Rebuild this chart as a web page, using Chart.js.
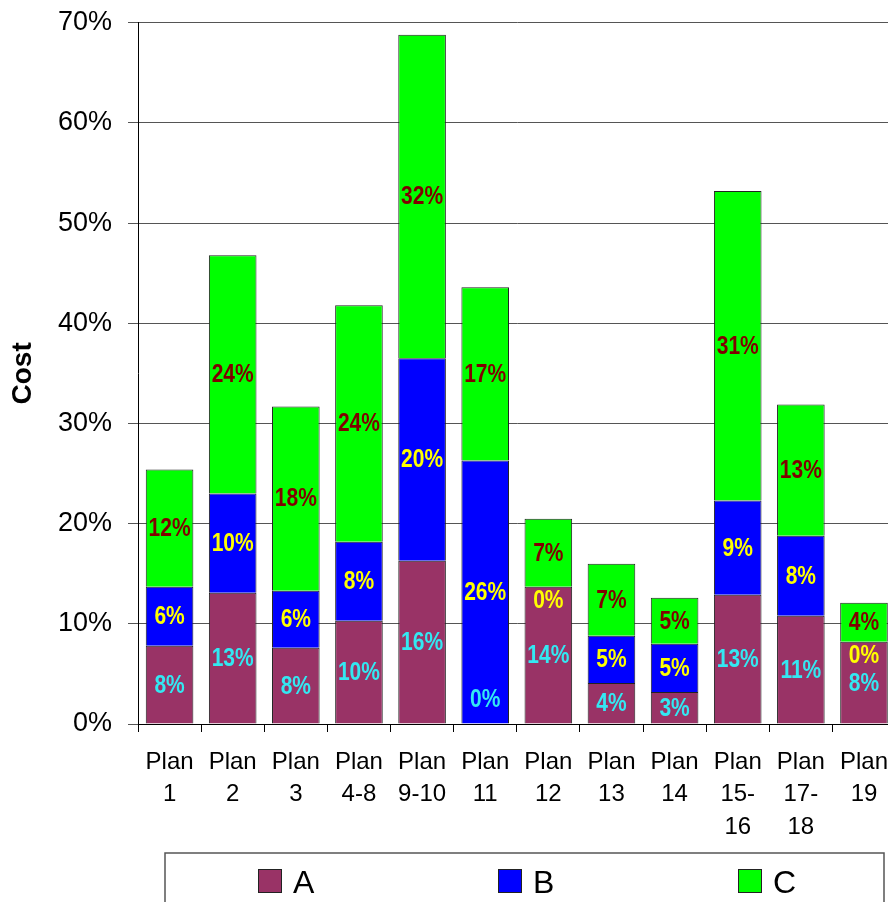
<!DOCTYPE html>
<html>
<head>
<meta charset="utf-8">
<title>Cost by plan</title>
<script src="https://cdn.jsdelivr.net/npm/chart.js@4.4.1/dist/chart.umd.min.js"></script>
<style>
  html, body { margin: 0; padding: 0; background: #ffffff; overflow: hidden; width: 888px; height: 902px; }
  canvas { display: block; }
</style>
</head>
<body>
<canvas id="chart" width="902" height="940"></canvas>
<script>
// Plan groups along the x axis (multi-line tick labels)
const planLabels = [
  ["Plan", "1"], ["Plan", "2"], ["Plan", "3"], ["Plan", "4-8"],
  ["Plan", "9-10"], ["Plan", "11"], ["Plan", "12"], ["Plan", "13"],
  ["Plan", "14"], ["Plan", "15-", "16"], ["Plan", "17-", "18"], ["Plan", "19"]
];

// Cost components, in percent
const costA = [7.8, 13.1, 7.6, 10.3, 16.3, 0, 13.7, 4.1, 3.2, 12.9, 10.8, 8.2];
const costB = [5.9, 9.9, 5.7, 7.9, 20.2, 26.3, 0, 4.7, 4.8, 9.4, 8.0, 0];
const costC = [11.7, 23.8, 18.4, 23.6, 32.3, 17.3, 6.8, 7.2, 4.6, 30.9, 13.1, 3.9];

const seriesNames = ["A", "B", "C"];

// Y axis ticks: 0% .. 70%
const yMin = 0, yMax = 70, yStep = 10;

const fill = ["#993366", "#0000FF", "#00FF00"];
const labelInk = ["#33E8F2", "#FFFF00", "#800000"];

// Values written in the middle of each stacked segment (tall, condensed bold)
const segmentLabels = {
  id: "segmentLabels",
  afterDatasetsDraw(chart) {
    const ctx = chart.ctx;
    const base = chart.scales.y.getPixelForValue(0);
    const squeeze = 0.84;
    ctx.save();
    ctx.font = "bold 25px 'Liberation Sans', Arial, sans-serif";
    ctx.textAlign = "center";
    ctx.textBaseline = "middle";
    chart.data.datasets.forEach((ds, di) => {
      const meta = chart.getDatasetMeta(di);
      meta.data.forEach((bar, i) => {
        const v = ds.data[i];
        let y = (bar.y + bar.base) / 2;
        if (v === 0) {
          y = bar.y + 13;
          if (y > base - 25) y = base - 25;
        }
        ctx.save();
        ctx.translate(bar.x, y + 1);
        ctx.scale(squeeze, 1);
        ctx.fillStyle = labelInk[di];
        ctx.fillText(Math.round(v) + "%", 0, 0);
        ctx.restore();
      });
    });
    ctx.restore();
  }
};

// Boxed legend under the axis
const boxedLegend = {
  id: "boxedLegend",
  afterDraw(chart) {
    const ctx = chart.ctx;
    const left = 165, right = 884, top = 853, bottom = 935;
    ctx.save();
    ctx.strokeStyle = "#555555";
    ctx.lineWidth = 1.5;
    ctx.strokeRect(left, top, right - left, bottom - top);
    ctx.font = "32px 'Liberation Sans', Arial, sans-serif";
    ctx.textAlign = "left";
    ctx.textBaseline = "alphabetic";
    chart.data.datasets.forEach((ds, i) => {
      const x = 258 + i * 240;
      ctx.fillStyle = ds.backgroundColor;
      ctx.fillRect(x, 869, 24, 24);
      ctx.strokeStyle = "#222222";
      ctx.lineWidth = 1;
      ctx.strokeRect(x + 0.5, 869.5, 23, 23);
      ctx.fillStyle = "#000000";
      ctx.fillText(ds.label, x + 35, 893);
    });
    ctx.restore();
  }
};

const datasets = [costA, costB, costC].map((vals, i) => ({
  label: seriesNames[i],
  data: vals,
  backgroundColor: fill[i],
  borderColor: "#222222",
  borderWidth: 1,
  categoryPercentage: 1.0,
  barPercentage: 0.754
}));

new Chart(document.getElementById("chart"), {
  type: "bar",
  data: { labels: planLabels, datasets },
  options: {
    responsive: false,
    animation: false,
    devicePixelRatio: 1,
    layout: { padding: { left: 0, right: 0, top: 20, bottom: 104 } },
    plugins: {
      legend: { display: false },
      tooltip: { enabled: false }
    },
    scales: {
      x: {
        stacked: true,
        afterFit(scale) { scale.height = 112; },
        border: { display: true, color: "#000000", width: 1 },
        grid: {
          offset: true,
          drawOnChartArea: false,
          drawTicks: true,
          tickLength: 8,
          color: "#000000"
        },
        ticks: {
          color: "#000000",
          padding: 14,
          maxRotation: 0,
          autoSkip: false,
          font: { family: "'Liberation Sans', Arial, sans-serif", size: 24, lineHeight: 1.354 }
        }
      },
      y: {
        stacked: true,
        min: yMin,
        max: yMax,
        afterFit(scale) { scale.width = 138; },
        border: { display: true, color: "#000000", width: 1 },
        grid: {
          color: "#555555",
          lineWidth: 1,
          drawTicks: true,
          tickLength: 10
        },
        ticks: {
          stepSize: yStep,
          color: "#000000",
          padding: 16,
          font: { family: "'Liberation Sans', Arial, sans-serif", size: 27, lineHeight: 0.5 },
          callback: (v) => v + "%"
        },
        title: {
          display: true,
          text: "Cost",
          color: "#000000",
          padding: { top: 6, bottom: 0 },
          font: { family: "'Liberation Sans', Arial, sans-serif", size: 28, weight: "bold" }
        }
      }
    }
  },
  plugins: [segmentLabels, boxedLegend]
});
</script>
</body>
</html>
